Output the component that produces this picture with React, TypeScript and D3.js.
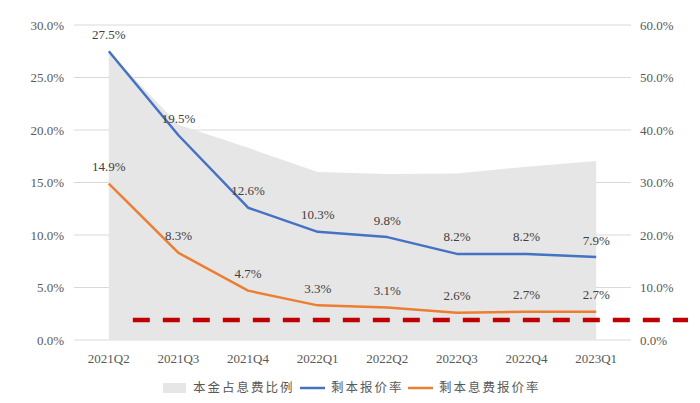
import React, { useEffect, useRef } from 'react';
import * as d3 from 'd3';

const quarters = ['2021Q2', '2021Q3', '2021Q4', '2022Q1', '2022Q2', '2022Q3', '2022Q4', '2023Q1'];
const principalShare = [54.9, 41.0, 36.6, 32.0, 31.6, 31.7, 33.0, 34.1];
const principalRate = [27.5, 19.5, 12.6, 10.3, 9.8, 8.2, 8.2, 7.9];
const feeRate = [14.9, 8.3, 4.7, 3.3, 3.1, 2.6, 2.7, 2.7];
const thresholdLevel = 1.9;
const leftTicks = [0, 5, 10, 15, 20, 25, 30];
const rightTicks = [0, 10, 20, 30, 40, 50, 60];

const serif = '"Liberation Serif", "Times New Roman", serif';
const cjk = '"Noto Sans CJK SC", sans-serif';

export default function App() {
  const svgRef = useRef<SVGSVGElement>(null);

  useEffect(() => {
    if (!svgRef.current) return;
    const svg = d3.select(svgRef.current);
    svg.selectAll('*').remove();

    const width = 700;
    const height = 403;
    const left = 74;
    const right = 631;
    const top = 25;
    const bottom = 340;

    const x = d3.scaleBand<string>().domain(quarters).range([left, right]);
    const cx = (q: string) => (x(q) || 0) + x.bandwidth() / 2;
    const yL = d3.scaleLinear().domain([0, 30]).range([bottom, top]);
    const yR = d3.scaleLinear().domain([0, 60]).range([bottom, top]);

    svg.attr('width', width).attr('height', height);

    // gridlines
    svg.append('g')
      .selectAll('line')
      .data(leftTicks)
      .enter()
      .append('line')
      .attr('x1', left)
      .attr('x2', right)
      .attr('y1', d => yL(d))
      .attr('y2', d => yL(d))
      .attr('stroke', '#d9d9d9')
      .attr('stroke-width', 1);

    // area on right axis
    const area = d3.area<number>()
      .x((d, i) => cx(quarters[i]))
      .y0(yR(0))
      .y1(d => yR(d));
    svg.append('path')
      .datum(principalShare)
      .attr('d', area)
      .attr('fill', '#e7e6e6');

    // left axis labels
    svg.append('g')
      .selectAll('text')
      .data(leftTicks)
      .enter()
      .append('text')
      .attr('x', 64)
      .attr('y', d => yL(d))
      .attr('dy', '0.35em')
      .attr('text-anchor', 'end')
      .style('font-family', serif)
      .style('font-size', '13px')
      .style('fill', '#595959')
      .text(d => d.toFixed(1) + '%');

    // right axis labels
    svg.append('g')
      .selectAll('text')
      .data(rightTicks)
      .enter()
      .append('text')
      .attr('x', 640)
      .attr('y', d => yR(d))
      .attr('dy', '0.35em')
      .style('font-family', serif)
      .style('font-size', '13px')
      .style('fill', '#595959')
      .text(d => d.toFixed(1) + '%');

    // x labels
    svg.append('g')
      .selectAll('text')
      .data(quarters)
      .enter()
      .append('text')
      .attr('x', d => cx(d))
      .attr('y', 358)
      .attr('dy', '0.35em')
      .attr('text-anchor', 'middle')
      .style('font-family', serif)
      .style('font-size', '13px')
      .style('fill', '#595959')
      .text(d => d);

    // threshold dashed line
    svg.append('line')
      .attr('x1', cx(quarters[0]) + 24)
      .attr('x2', 688)
      .attr('y1', yL(thresholdLevel))
      .attr('y2', yL(thresholdLevel))
      .attr('stroke', '#c00000')
      .attr('stroke-width', 4.5)
      .attr('stroke-dasharray', '17 13');

    const series = [
      { values: principalRate, color: '#4472c4' },
      { values: feeRate, color: '#ed7d31' },
    ];

    series.forEach(s => {
      const line = d3.line<number>()
        .x((d, i) => cx(quarters[i]))
        .y(d => yL(d));
      svg.append('path')
        .datum(s.values)
        .attr('d', line)
        .attr('fill', 'none')
        .attr('stroke', s.color)
        .attr('stroke-width', 2.5)
        .attr('stroke-linejoin', 'round');
    });

    series.forEach(s => {
      svg.append('g')
        .selectAll('text')
        .data(s.values)
        .enter()
        .append('text')
        .attr('x', (d, i) => cx(quarters[i]))
        .attr('y', d => yL(d) - 17)
        .attr('dy', '0.35em')
        .attr('text-anchor', 'middle')
        .style('font-family', serif)
        .style('font-size', '13px')
        .style('fill', '#404040')
        .text(d => d.toFixed(1) + '%');
    });

    // legend
    const legendY = 388;
    const legend = svg.append('g');
    legend.append('rect')
      .attr('x', 163)
      .attr('y', legendY - 5)
      .attr('width', 23)
      .attr('height', 10)
      .attr('fill', '#e7e6e6');
    legend.append('text')
      .attr('x', 193)
      .attr('y', legendY)
      .attr('dy', '0.35em')
      .style('font-family', cjk)
      .style('font-size', '12.5px')
      .style('letter-spacing', '2px')
      .style('fill', '#595959')
      .text('本金占息费比例');

    const lineItems = [
      { label: '剩本报价率', color: '#4472c4', x0: 300 },
      { label: '剩本息费报价率', color: '#ed7d31', x0: 408 },
    ];
    lineItems.forEach(item => {
      legend.append('line')
        .attr('x1', item.x0)
        .attr('x2', item.x0 + 25)
        .attr('y1', legendY)
        .attr('y2', legendY)
        .attr('stroke', item.color)
        .attr('stroke-width', 2.5);
      legend.append('text')
        .attr('x', item.x0 + 31)
        .attr('y', legendY)
        .attr('dy', '0.35em')
        .style('font-family', cjk)
        .style('font-size', '12.5px')
        .style('letter-spacing', '2px')
        .style('fill', '#595959')
        .text(item.label);
    });
  }, []);

  return (
    <div>
      <style>{'body{margin:0;background:#fff}'}</style>
      <svg ref={svgRef} style={{ display: 'block' }}></svg>
    </div>
  );
}
